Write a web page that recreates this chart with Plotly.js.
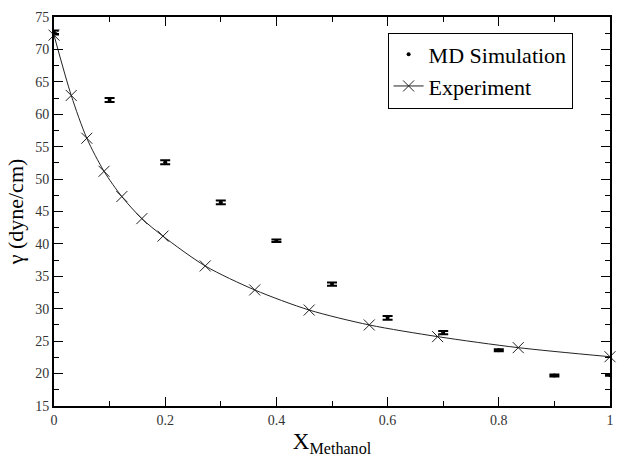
<!DOCTYPE html>
<html><head><meta charset="utf-8">
<script src="https://cdn.plot.ly/plotly-3.0.1.min.js"></script>
<style>html,body{margin:0;padding:0;background:#fff}#c{width:624px;height:463px}</style>
</head><body><div id="c"></div>
<script>
const mdX = [0.0, 0.1, 0.2, 0.3, 0.4, 0.5, 0.6, 0.7, 0.8, 0.9, 1.0];
const mdY = [72.6, 62.2, 52.6, 46.4, 40.5, 33.8, 28.6, 26.3, 23.6, 19.7, 19.8];
const mdErr = [0.3, 0.3, 0.3, 0.3, 0.2, 0.25, 0.3, 0.25, 0.15, 0.15, 0.15];
const expX = [0.0, 0.031, 0.059, 0.09, 0.122, 0.158, 0.196, 0.272, 0.361, 0.459, 0.567, 0.69, 0.835, 1.0];
const expY = [72.2, 62.9, 56.3, 51.2, 47.3, 43.9, 41.2, 36.6, 32.9, 29.8, 27.5, 25.7, 24.0, 22.6];
const xTickVals = [0, 0.2, 0.4, 0.6, 0.8, 1];
const xTickText = ['0', '0.2', '0.4', '0.6', '0.8', '1'];
const serif = "Liberation Serif";

const traces = [
  {x: mdX, y: mdY, name: 'MD Simulation', type: 'scatter', mode: 'markers',
   marker: {color: '#000', size: 4, symbol: 'circle'},
   error_y: {type: 'data', array: mdErr, visible: true, color: '#000', thickness: 2, width: 5},
   cliponaxis: false},
  {x: expX, y: expY, name: 'Experiment', type: 'scatter', mode: 'lines+markers',
   line: {color: '#222', width: 1, shape: 'spline', smoothing: 0.8},
   marker: {color: '#222', size: 11, symbol: 'x-thin-open', line: {color: '#222', width: 1}},
   cliponaxis: false}
];

const layout = {
  width: 624, height: 463,
  margin: {l: 54, r: 14, t: 17, b: 57},
  paper_bgcolor: '#fff', plot_bgcolor: '#fff',
  font: {family: serif, color: '#000'},
  showlegend: true,
  legend: {x: 0.6, y: 0.96, xanchor: 'left', yanchor: 'top',
    bordercolor: '#000', borderwidth: 1, bgcolor: '#fff',
    font: {family: serif, size: 22, color: '#000'},
    itemsizing: 'trace', tracegroupgap: 0},
  xaxis: {range: [0, 1], tickvals: xTickVals, ticktext: xTickText, showgrid: false, zeroline: false,
    showline: true, linecolor: '#000', linewidth: 2, mirror: 'allticks',
    ticks: 'inside', ticklen: 9, tickwidth: 1, tickcolor: '#000',
    minor: {tickvals: [0.1, 0.3, 0.5, 0.7, 0.9], ticks: 'inside', ticklen: 5, tickcolor: '#000', showgrid: false},
    tickfont: {family: serif, size: 14, color: '#333'},
    title: {text: 'X<sub>Methanol</sub>', font: {family: serif, size: 23, color: '#000'}, standoff: 6}},
  yaxis: {range: [15, 75], dtick: 5, tick0: 15, showgrid: false, zeroline: false,
    showline: true, linecolor: '#000', linewidth: 2, mirror: 'allticks',
    ticks: 'inside', ticklen: 9, tickwidth: 1, tickcolor: '#000',
    minor: {dtick: 2.5, ticks: 'inside', ticklen: 5, tickcolor: '#000', showgrid: false},
    tickfont: {family: serif, size: 14, color: '#333'},
    title: {text: 'γ (dyne/cm)', font: {family: serif, size: 22, color: '#000'}, standoff: 6}}
};
Plotly.newPlot('c', traces, layout, {displayModeBar: false, staticPlot: true});
</script></body></html>
